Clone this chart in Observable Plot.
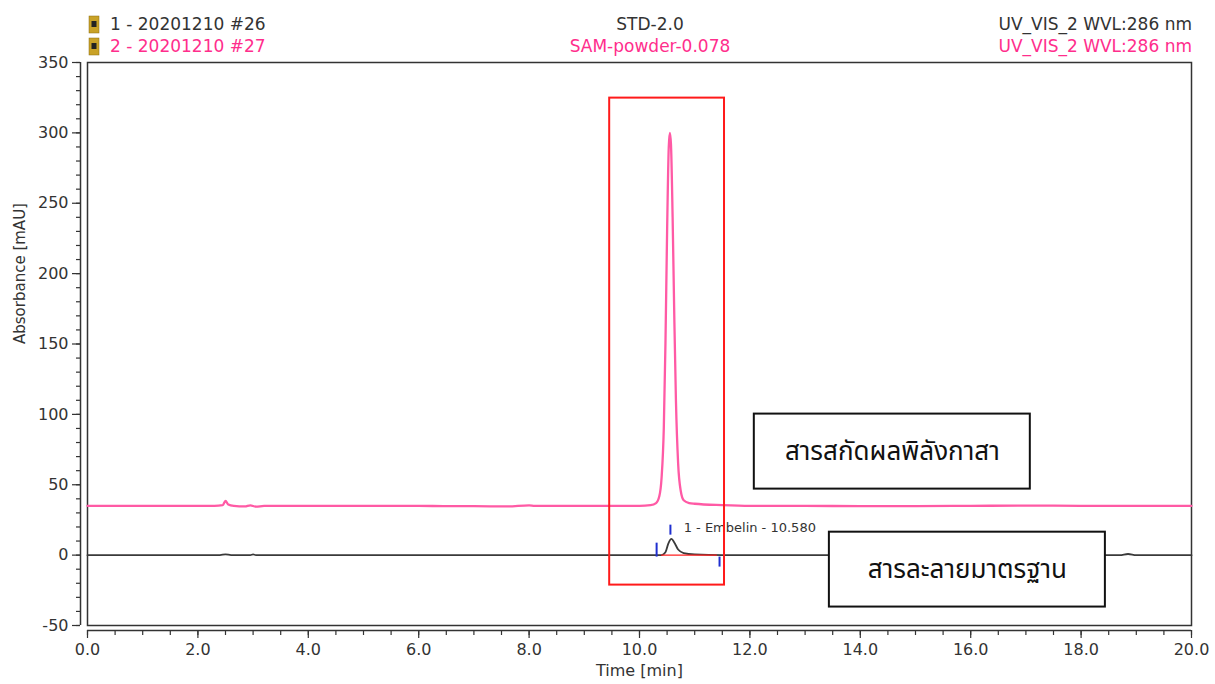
<!DOCTYPE html>
<html>
<head>
<meta charset="utf-8">
<script src="https://cdn.jsdelivr.net/npm/d3@7"></script>
<script src="https://cdn.jsdelivr.net/npm/@observablehq/plot@0.6"></script>
<style>
  html, body { margin: 0; padding: 0; background: #fff; }
  svg { display: block; }
</style>
</head>
<body>
<div id="chart"></div>
<script>
// ---- data ----
const sampleTime = [0, 1.0, 2.0, 2.3, 2.45, 2.5, 2.55, 2.65, 2.85, 2.95, 3.05, 3.2, 4.0, 5.0, 6.0, 6.5, 7.0, 7.6, 8.0, 8.1, 9.0, 10.0, 10.2, 10.3, 10.36, 10.4, 10.44, 10.47, 10.5, 10.53, 10.55, 10.57, 10.6, 10.63, 10.66, 10.7, 10.75, 10.8, 10.9, 11.0, 11.5, 12.0, 13.0, 14.0, 15.0, 16.0, 17.0, 18.0, 19.0, 20.0];
const sampleAbs  = [35, 35, 35, 35, 35.5, 38.5, 36, 35, 34.6, 35.4, 34.4, 35, 35, 35, 35, 34.8, 34.8, 34.6, 35.4, 35, 35, 35, 35.5, 37, 42, 55, 90, 150, 230, 290, 300, 292, 240, 170, 110, 65, 45, 39, 37, 36.5, 35.5, 35, 35, 34.8, 34.8, 35, 35.2, 35, 35, 35];

const stdTime = [0, 2.4, 2.5, 2.6, 2.95, 3.0, 3.05, 3.5, 10.0, 10.4, 10.47, 10.52, 10.58, 10.63, 10.7, 10.8, 11.0, 11.5, 15.0, 18.7, 18.85, 19.0, 20.0];
const stdAbs  = [0, 0, 0.6, 0, 0, 0.5, 0, 0, 0, 0, 2, 8, 11.5, 9, 4, 1.5, 0.5, 0, 0, 0, 0.8, 0, 0];

const yMajor = [-50, 0, 50, 100, 150, 200, 250, 300, 350];
const xMajor = [0, 2, 4, 6, 8, 10, 12, 14, 16, 18, 20];
const xTickLabels = ["0.0", "2.0", "4.0", "6.0", "8.0", "10.0", "12.0", "14.0", "16.0", "18.0", "20.0"];
const yMinor = d3.range(-50, 351, 10);
const xMinor = d3.range(0, 20.01, 0.5);

// integration marks for peak 1 (time, low, high)
const markTime = [10.31, 10.56, 11.45];
const markLow  = [-1.4, 14.2, -8.5];
const markHigh = [8.5, 21.3, -1.4];
const baselineTime = [10.4, 11.41];
const peakLabel = "1 - Embelin - 10.580";
const peakLabelPos = [10.8, 19.5];

// annotations
const highlight = {x1: 9.46, x2: 11.54, y1: -21.3, y2: 324.7};
const boxLabels = ["สารสกัดผลพิลังกาสา", "สารละลายมาตรฐาน"];
const boxX1 = [12.08, 13.44];
const boxX2 = [17.08, 18.44];
const boxY1 = [46.9, -36.9];
const boxY2 = [100.2, 16.3];

const headerLeft = ["1 - 20201210 #26", "2 - 20201210 #27"];
const headerMid = ["STD-2.0", "SAM-powder-0.078"];
const headerRight = ["UV_VIS_2 WVL:286 nm", "UV_VIS_2 WVL:286 nm"];
const headerColors = ["#333333", "#ff2e8c"];

// ---- build ----
const sample = sampleTime.map((t, i) => ({t, v: sampleAbs[i]}));
const std = stdTime.map((t, i) => ({t, v: stdAbs[i]}));
const marksI = markTime.map((t, i) => ({t, lo: markLow[i], hi: markHigh[i]}));
const boxes = boxLabels.map((label, i) => ({label, x1: boxX1[i], x2: boxX2[i], y1: boxY1[i], y2: boxY2[i]}));

const font = "DejaVu Sans, Verdana, sans-serif";
const thaiFont = "Noto Sans Thai, Tahoma, Loma, Garuda, DejaVu Sans, sans-serif";
const ink = "#333";

const plot = Plot.plot({
  width: 1215,
  height: 684,
  marginLeft: 87,
  marginRight: 24,
  marginTop: 62,
  marginBottom: 59,
  style: {fontFamily: font, background: "#fff", color: ink},
  x: {domain: [0, 20]},
  y: {domain: [-50, 350]},
  marks: [
    // y axis (offset to the left of the frame)
    Plot.ruleX([0], {y1: -50, y2: 350, dx: -7, stroke: ink, strokeWidth: 1.5}),
    Plot.axisY(yMinor, {tickSize: 4, text: null, dx: -7, stroke: ink, strokeWidth: 1.2, label: null}),
    Plot.axisY(yMajor, {tickSize: 8, tickPadding: 4, dx: -7, stroke: ink, strokeWidth: 1.2, fontSize: 16, fill: ink, label: null,
      tickFormat: (d) => String(d)}),
    // x axis (offset below the frame)
    Plot.ruleY([-50], {x1: 0, x2: 20, dy: 5, stroke: ink, strokeWidth: 1.5}),
    Plot.axisX(xMinor, {tickSize: 5, text: null, dy: 5, stroke: ink, strokeWidth: 1.2, label: null}),
    Plot.axisX(xMajor, {tickSize: 8, tickPadding: 5, dy: 5, stroke: ink, strokeWidth: 1.2, fontSize: 16, fill: ink, label: null,
      tickFormat: (d) => xTickLabels[xMajor.indexOf(d)]}),
    Plot.text(["Absorbance [mAU]"], {frameAnchor: "left", rotate: -90, dx: -67, fontSize: 15, fill: ink, text: d => d}),
    Plot.text(["Time [min]"], {frameAnchor: "bottom", dy: 50, fontSize: 16, fill: ink, text: d => d}),
    Plot.frame({stroke: ink, strokeWidth: 1.5}),

    // traces
    Plot.line(std, {x: "t", y: "v", stroke: "#3a3a3a", strokeWidth: 1.8, curve: "monotone-x"}),
    Plot.line(sample, {x: "t", y: "v", stroke: "#ff5aa5", strokeWidth: 2.3, curve: "monotone-x"}),

    // integration
    Plot.ruleY([0], {x1: baselineTime[0], x2: baselineTime[1], stroke: "#ff2020", strokeWidth: 1.2}),
    Plot.ruleX(marksI, {x: "t", y1: "lo", y2: "hi", stroke: "#1f2fd0", strokeWidth: 2}),
    Plot.text([peakLabel], {x: peakLabelPos[0], y: peakLabelPos[1], textAnchor: "start", fontSize: 13, fill: ink, text: d => d}),

    // annotations
    Plot.rect([highlight], {x1: "x1", x2: "x2", y1: "y1", y2: "y2", fill: "none", stroke: "#ff1a1a", strokeWidth: 2}),
    Plot.rect(boxes, {x1: "x1", x2: "x2", y1: "y1", y2: "y2", fill: "#fff", stroke: "#111", strokeWidth: 2}),
    Plot.text(boxes, {x: d => (d.x1 + d.x2) / 2, y: d => (d.y1 + d.y2) / 2, text: "label", fontSize: 26, fill: "#111", fontFamily: thaiFont})
  ]
});

// header texts and sample icons (outside the frame)
const svg = d3.select(plot);
const header = svg.append("g").attr("font-family", font).attr("font-size", 17).attr("text-anchor", "start");
const rows = [24, 46];
headerLeft.forEach((t, i) => {
  header.append("rect").attr("x", 89).attr("y", rows[i] - 8).attr("width", 10).attr("height", 17).attr("fill", "#c9a227").attr("stroke", "#8a6d10").attr("stroke-width", 0.5);
  header.append("rect").attr("x", 91.5).attr("y", rows[i] - 3).attr("width", 5).attr("height", 6).attr("fill", "#222");
  header.append("text").attr("x", 110).attr("y", rows[i]).attr("dy", "0.35em").attr("text-anchor", "start").attr("fill", headerColors[i]).text(t);
  header.append("text").attr("x", 650).attr("y", rows[i]).attr("dy", "0.35em").attr("text-anchor", "middle").attr("fill", headerColors[i]).text(headerMid[i]);
  header.append("text").attr("x", 1192).attr("y", rows[i]).attr("dy", "0.35em").attr("text-anchor", "end").attr("fill", headerColors[i]).text(headerRight[i]);
});

document.getElementById("chart").appendChild(plot);
</script>
</body>
</html>
